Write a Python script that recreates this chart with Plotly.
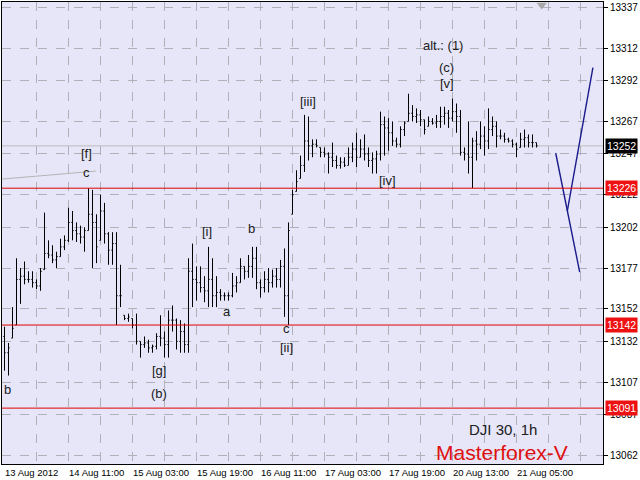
import plotly.graph_objects as go

# ---------------- data ----------------
bar_index = list(range(134))

high = [13141,13131,13153,13183,13177,13181,13175,13175,13170,13177,
        13211,13194,13191,13187,13195,13197,13214,13212,13205,13203,
        13202,13226,13225,13210,13222,13217,13199,13199,13199,13179,
        13148,13149,13146,13149,13132,13135,13133,13130,13137,13148,
        13138,13151,13154,13146,13145,13143,13183,13192,13178,13178,
        13172,13190,13183,13172,13164,13162,13162,13174,13172,13183,
        13178,13185,13190,13190,13170,13175,13177,13176,13177,13182,
        13189,13205,13225,13237,13246,13271,13270,13256,13256,13251,
        13251,13248,13254,13246,13245,13245,13251,13254,13260,13256,
        13259,13251,13248,13249,13273,13270,13269,13267,13257,13264,
        13267,13284,13277,13275,13274,13268,13270,13269,13271,13276,
        13276,13274,13281,13278,13274,13251,13267,13257,13261,13267,
        13264,13275,13270,13267,13262,13260,13257,13256,13254,13260,
        13262,13259,13259,13254]
low = [13114,13111,13134,13142,13155,13167,13168,13165,13164,13163,
       13176,13183,13180,13177,13184,13188,13193,13194,13193,13192,
       13187,13200,13177,13180,13194,13192,13179,13179,13142,13153,
       13145,13144,13140,13130,13122,13128,13125,13125,13127,13129,
       13122,13122,13138,13127,13125,13125,13125,13153,13157,13162,
       13156,13153,13153,13153,13157,13157,13157,13159,13162,13168,
       13170,13171,13171,13164,13159,13162,13162,13165,13165,13165,
       13147,13142,13210,13224,13232,13236,13243,13245,13251,13245,
       13245,13235,13239,13238,13238,13239,13240,13242,13239,13245,
       13243,13239,13235,13235,13243,13246,13249,13252,13251,13251,
       13258,13267,13267,13266,13264,13259,13264,13265,13263,13263,
       13265,13263,13267,13260,13246,13243,13235,13226,13243,13250,
       13246,13250,13258,13251,13256,13254,13254,13251,13245,13251,
       13251,13251,13251,13251]
open_ = [13135,13125,13134,13142,13170,13172,13170,13170,13168,13166,
         13176,13186,13185,13182,13184,13190,13194,13205,13200,13198,
         13196,13200,13210,13205,13194,13212,13198,13188,13192,13160,
         13148,13146,13146,13142,13132,13130,13131,13128,13129,13135,
         13134,13130,13145,13145,13132,13138,13130,13175,13170,13168,
         13165,13163,13170,13160,13162,13160,13160,13160,13166,13168,
         13178,13175,13178,13183,13168,13165,13170,13168,13172,13170,
         13178,13160,13210,13224,13232,13240,13255,13252,13253,13251,
         13248,13247,13245,13243,13240,13242,13240,13245,13250,13245,
         13250,13247,13243,13244,13247,13265,13263,13260,13255,13253,
         13262,13267,13272,13270,13271,13268,13264,13267,13266,13267,
         13270,13272,13269,13273,13270,13248,13247,13245,13255,13253,
         13258,13255,13262,13264,13258,13258,13256,13255,13253,13251,
         13256,13257,13254,13254]
close = [13125,13128,13140,13170,13172,13170,13170,13168,13166,13175,
         13186,13185,13182,13184,13190,13194,13205,13200,13198,13196,
         13200,13210,13205,13190,13212,13198,13188,13192,13160,13160,
         13146,13147,13142,13132,13130,13131,13128,13129,13135,13134,
         13130,13145,13145,13132,13138,13130,13175,13170,13168,13165,
         13163,13170,13160,13162,13160,13160,13160,13166,13168,13178,
         13175,13178,13183,13168,13165,13170,13168,13172,13170,13178,
         13160,13200,13222,13230,13240,13255,13252,13253,13252,13248,
         13247,13245,13243,13240,13242,13240,13245,13250,13245,13250,
         13247,13243,13244,13247,13265,13263,13260,13255,13253,13262,
         13266,13272,13270,13271,13268,13262,13267,13266,13267,13270,
         13272,13269,13273,13270,13248,13247,13245,13255,13253,13258,
         13255,13262,13264,13258,13258,13256,13255,13253,13250,13256,
         13257,13254,13254,13252]

y_tick_values = [13337, 13312, 13292, 13267, 13247, 13222, 13202,
                 13177, 13152, 13132, 13107, 13087, 13062]
x_label_bars = [0, 16, 32, 48, 64, 80, 96, 112, 128]
x_label_text = ["13 Aug 2012", "14 Aug 11:00", "15 Aug 03:00", "15 Aug 19:00",
                "16 Aug 11:00", "17 Aug 03:00", "17 Aug 19:00", "20 Aug 13:00",
                "21 Aug 05:00"]
x_grid_bars = list(range(8, 150, 8))

red_levels = [13226, 13142, 13091]
current_price = 13252

trend_x = [-0.6, 22.8]
trend_y = [13231.6, 13236.5]

forecast_a_x = [137.8, 143.8]
forecast_a_y = [13247.6, 13174.5]
forecast_b_x = [140.7, 147.1]
forecast_b_y = [13212.0, 13300.0]

wave_text = ["[f]", "c", "b", "[g]", "(b)", "[i]", "b", "a", "c", "[ii]",
             "[iii]", "[iv]", "alt.: (1)", "(c)", "[v]"]
wave_x = [20.6, 20.6, 0.8, 38.6, 38.6, 50.6, 61.8, 55.6, 70.6, 70.6,
          75.8, 95.8, 109.6, 110.6, 110.6]
wave_y = [13247.6, 13235.9, 13102.7, 13114.4, 13099.7, 13199.7, 13201.0,
          13150.6, 13139.6, 13128.5, 13279.5, 13231.0, 13313.3, 13299.8, 13290.0]

shift_marker_x = [134.3]
shift_marker_y = [13338.5]

FONT = "Liberation Sans, Arial"

# ---------------- figure ----------------
fig = go.Figure()

fig.add_trace(go.Ohlc(
    x=bar_index, open=open_, high=high, low=low, close=close,
    increasing=dict(line=dict(color="black", width=1)),
    decreasing=dict(line=dict(color="black", width=1)),
    tickwidth=0.3, hoverinfo="skip", showlegend=False))

fig.add_trace(go.Scatter(x=trend_x, y=trend_y, mode="lines",
                         line=dict(color="#b4b4b4", width=1),
                         hoverinfo="skip", showlegend=False))
fig.add_trace(go.Scatter(x=forecast_a_x, y=forecast_a_y, mode="lines",
                         line=dict(color="#1a1a8c", width=1.4),
                         hoverinfo="skip", showlegend=False))
fig.add_trace(go.Scatter(x=forecast_b_x, y=forecast_b_y, mode="lines",
                         line=dict(color="#1a1a8c", width=1.4),
                         hoverinfo="skip", showlegend=False))
fig.add_trace(go.Scatter(x=shift_marker_x, y=shift_marker_y, mode="markers",
                         marker=dict(symbol="triangle-down", size=9, color="#a8a8a8"),
                         hoverinfo="skip", showlegend=False, cliponaxis=False))

shapes = []
shapes.append(dict(type="line", xref="paper", x0=0, x1=1, yref="y",
                   y0=current_price, y1=current_price,
                   line=dict(color="#bdbdbd", width=1), layer="below"))
for lv in red_levels:
    shapes.append(dict(type="line", xref="paper", x0=0, x1=1, yref="y",
                       y0=lv, y1=lv, line=dict(color="#e00000", width=1)))

annotations = []
for t, xx, yy in zip(wave_text, wave_x, wave_y):
    annotations.append(dict(x=xx, y=yy, xref="x", yref="y", text=t,
                            showarrow=False, xanchor="center", yanchor="middle",
                            font=dict(family=FONT, size=13, color="#202020")))
for b, t in zip(x_label_bars, x_label_text):
    annotations.append(dict(x=b, y=0, xref="x", yref="paper", text=t,
                            showarrow=False, xanchor="left", yanchor="top",
                            xshift=-2, yshift=-1,
                            font=dict(family=FONT, size=9.5, color="black")))
# price boxes on the right axis
annotations.append(dict(x=1, y=current_price, xref="paper", yref="y",
                        text=str(current_price), showarrow=False,
                        xanchor="left", yanchor="middle", xshift=2,
                        bgcolor="black", borderpad=1,
                        font=dict(family=FONT, size=10.5, color="white")))
for lv in red_levels:
    annotations.append(dict(x=1, y=lv, xref="paper", yref="y", text=str(lv),
                            showarrow=False, xanchor="left", yanchor="middle",
                            xshift=2, bgcolor="#ee1111", borderpad=1,
                            font=dict(family=FONT, size=10.5, color="white")))
annotations.append(dict(x=0.834, y=0.074, xref="paper", yref="paper",
                        text="DJI 30, 1h", showarrow=False,
                        xanchor="center", yanchor="middle",
                        font=dict(family=FONT, size=15, color="#202020")))
annotations.append(dict(x=0.832, y=0.024, xref="paper", yref="paper",
                        text="Masterforex-V", showarrow=False,
                        xanchor="center", yanchor="middle",
                        font=dict(family=FONT, size=21, color="#e01010")))

fig.update_layout(
    width=640, height=480,
    margin=dict(l=2, r=37, t=2, b=16, autoexpand=False),
    paper_bgcolor="white", plot_bgcolor="#e6e6f8",
    shapes=shapes, annotations=annotations, showlegend=False,
    xaxis=dict(range=[-0.625, 149.625], tickmode="array", tickvals=x_grid_bars,
               showticklabels=False, ticks="", showgrid=True,
               gridcolor="#b0b0b8", griddash="dash", gridwidth=1,
               showline=True, linecolor="black", linewidth=1, mirror=True,
               zeroline=False, rangeslider=dict(visible=False), fixedrange=True),
    yaxis=dict(range=[13056.7, 13340.3], side="right", tickmode="array",
               tickvals=y_tick_values, ticktext=[str(v) for v in y_tick_values],
               ticks="outside", ticklen=4, tickcolor="black",
               tickfont=dict(family=FONT, size=10, color="black"),
               showgrid=True, gridcolor="#b0b0b8", griddash="dash", gridwidth=1,
               showline=True, linecolor="black", linewidth=1, mirror=True,
               zeroline=False, fixedrange=True),
)

fig.write_html("out.html", config={"displayModeBar": False, "staticPlot": True},
               post_script="document.body.style.margin='0';document.body.style.overflow='hidden';")
